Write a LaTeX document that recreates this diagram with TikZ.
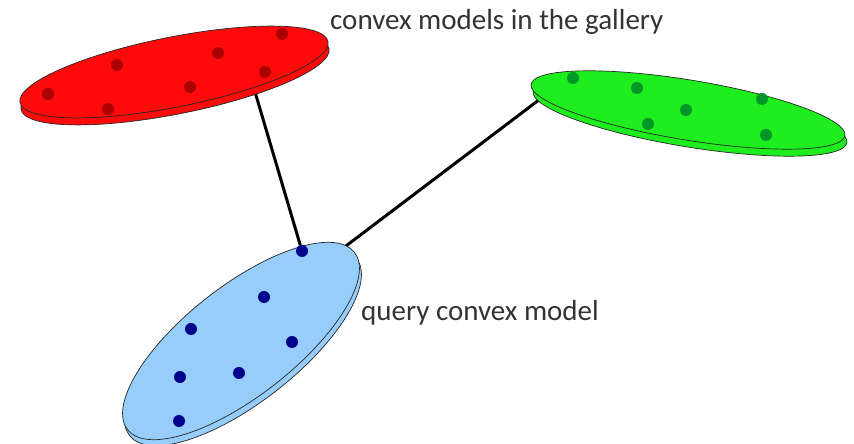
\documentclass[tikz,border=0pt]{standalone}
\usepackage{fontspec}
\setmainfont{Carlito}
\usepackage{tikz}
\usetikzlibrary{calc}
\usetikzlibrary{positioning}
\definecolor{red}{RGB}{255,10,10}
\definecolor{darkred}{RGB}{170,0,0}
\definecolor{green}{RGB}{30,238,30}
\definecolor{darkgreen}{RGB}{0,150,40}
\definecolor{lightblue}{RGB}{150,205,250}
\definecolor{darkblue}{RGB}{0,0,140}

\begin{document}
\begin{tikzpicture}[x=1pt,y=1pt,>=latex,
  disc/.style={draw=black!85,line width=0.7pt},
  dot/.style={circle,fill,inner sep=0pt,minimum size=12pt},
  link/.style={black,line width=3pt},
  lbl/.style={anchor=west,inner sep=0pt,font=\fontsize{29}{34}\selectfont,text=black!80}]

\useasboundingbox (0,0) rectangle (854,444);

% hidden ends of the links
\coordinate (rq) at (250,369);
\coordinate (gq) at (560,360);
\coordinate (qg) at (330,186);

\node[dot,darkblue] (b1) at (302,193) {};

\draw[link] (rq) -- (b1);
\draw[link] (qg) -- (gq);

% gallery models
\draw[disc,fill=red] (175,365) ellipse [x radius=157,y radius=35,rotate=11.2];
\draw[disc,fill=red] (174,372) ellipse [x radius=157,y radius=35,rotate=11.2];

\draw[disc,fill=green] (690,327) ellipse [x radius=159,y radius=30,rotate=-9.3];
\draw[disc,fill=green] (688,334) ellipse [x radius=159,y radius=30,rotate=-9.3];

% query model
\draw[disc,fill=lightblue] (243,97) ellipse [x radius=144,y radius=55,rotate=38];
\draw[disc,fill=lightblue] (241,103) ellipse [x radius=144,y radius=55,rotate=38];

\tikzstyle{every node}=[dot]

\node[darkred] (r1) at (282,410) {};
\node[darkred] (r2) at (218,391) {};
\node[darkred] (r3) at (117,379) {};
\node[darkred] (r4) at (265,372) {};
\node[darkred] (r5) at (190,357) {};
\node[darkred] (r6) at (48,350) {};
\node[darkred] (r7) at (108,335) {};

\node[darkgreen] (g1) at (573,366) {};
\node[darkgreen] (g2) at (637,356) {};
\node[darkgreen] (g3) at (762,345) {};
\node[darkgreen] (g4) at (686,334) {};
\node[darkgreen] (g5) at (648,320) {};
\node[darkgreen] (g6) at (766,309) {};

\node[darkblue] (b1) at (302,193) {};
\node[darkblue] (b2) at (264,147) {};
\node[darkblue] (b3) at (191,115) {};
\node[darkblue] (b4) at (292,102) {};
\node[darkblue] (b5) at (180,67) {};
\node[darkblue] (b6) at (239,71) {};
\node[darkblue] (b7) at (179,23) {};

\tikzstyle{every node}=[]

\node[lbl] (gallery) at (330,422) {convex models in the gallery};
\node[lbl] (query) at (361,131) {query convex model};
\end{tikzpicture}
\end{document}
